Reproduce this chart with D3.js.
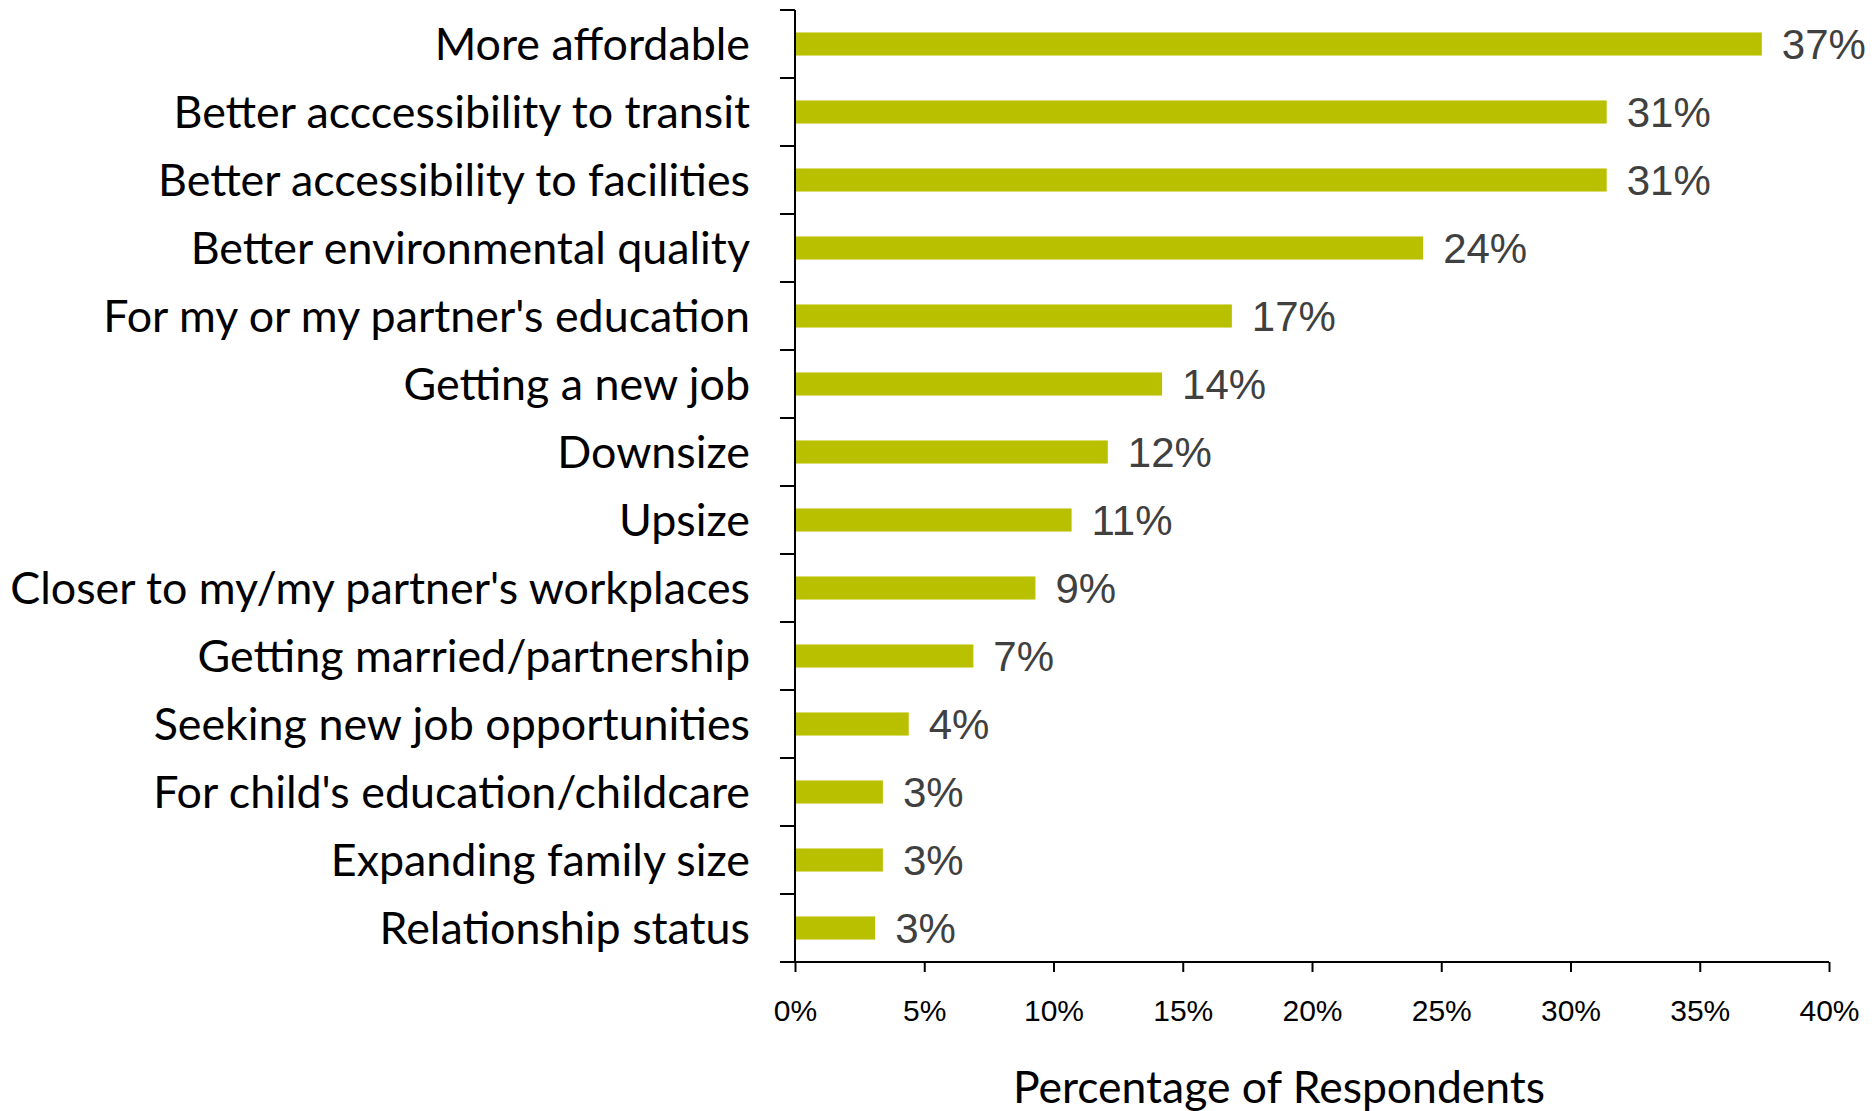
<!DOCTYPE html>
<html>
<head>
<meta charset="utf-8">
<script src="https://cdn.jsdelivr.net/npm/d3@7"></script>
<style>
  html, body { margin: 0; padding: 0; background: #fff; }
  svg { display: block; }
</style>
</head>
<body>
<svg id="chart" width="1872" height="1111"></svg>
<script>
// Reasons for moving, share of respondents (fractions)
const categories = [
  "More affordable",
  "Better acccessibility to transit",
  "Better accessibility to facilities",
  "Better environmental quality",
  "For my or my partner's education",
  "Getting a new job",
  "Downsize",
  "Upsize",
  "Closer to my/my partner's workplaces",
  "Getting married/partnership",
  "Seeking new job opportunities",
  "For child's education/childcare",
  "Expanding family size",
  "Relationship status"
];
const values = [0.374, 0.314, 0.314, 0.243, 0.169, 0.142, 0.121, 0.107, 0.093, 0.069, 0.044, 0.034, 0.034, 0.031];
const xTicks = [0, 0.05, 0.10, 0.15, 0.20, 0.25, 0.30, 0.35, 0.40];
const xTitle = "Percentage of Respondents";

const svg = d3.select("#chart");
const plot = { left: 795, right: 1829, top: 10, bottom: 962 };
const barColor = "#b9c000";
const labelFont = "Lato, 'Noto Sans', sans-serif";
const numFont = "'Liberation Sans', Arial, sans-serif";

const x = d3.scaleLinear().domain([0, 0.40]).range([plot.left, plot.right]);
const y = d3.scaleBand().domain(categories).range([plot.top, plot.bottom])
  .paddingInner(0.66).paddingOuter(0.33);
const fmt = d3.format(".0%");

// Bars
svg.append("g").selectAll("rect")
  .data(categories)
  .join("rect")
  .attr("x", x(0))
  .attr("y", d => y(d))
  .attr("width", (d, i) => x(values[i]) - x(0))
  .attr("height", y.bandwidth())
  .attr("fill", barColor);

// Value labels
svg.append("g").selectAll("text")
  .data(categories)
  .join("text")
  .attr("x", (d, i) => x(values[i]) + 20)
  .attr("y", d => y(d) + y.bandwidth() / 2)
  .attr("dy", "0.36em")
  .attr("font-family", numFont)
  .attr("font-size", 42)
  .attr("fill", "#404040")
  .text((d, i) => fmt(values[i]));

// Category axis: labels, domain line and boundary ticks
const yAxis = svg.append("g")
  .attr("transform", `translate(${plot.left},0)`)
  .call(d3.axisLeft(y).tickSize(0).tickPadding(45));
yAxis.select(".domain").attr("stroke", "#000").attr("stroke-width", 2)
  .attr("d", `M0,${plot.top}V${plot.bottom}`);
yAxis.selectAll(".tick text")
  .attr("font-family", labelFont)
  .attr("font-size", 44.8)
  .attr("fill", "#000")
  .attr("dy", "0.35em");
const boundaries = categories.map(c => y(c) - y.step() * y.paddingInner() / 2);
boundaries.push(plot.bottom);
yAxis.append("g").selectAll("line")
  .data(boundaries)
  .join("line")
  .attr("x1", -15).attr("x2", 0)
  .attr("y1", d => d).attr("y2", d => d)
  .attr("stroke", "#000").attr("stroke-width", 2);

// Value axis
const xAxis = svg.append("g")
  .attr("transform", `translate(0,${plot.bottom})`)
  .call(d3.axisBottom(x).tickValues(xTicks).tickFormat(fmt).tickSize(10).tickSizeOuter(0).tickPadding(28));
xAxis.select(".domain").attr("stroke", "#000").attr("stroke-width", 2)
  .attr("d", `M${plot.left - 15},0H${plot.right}`);
xAxis.selectAll(".tick line").attr("stroke", "#000").attr("stroke-width", 2);
xAxis.selectAll(".tick text")
  .attr("font-family", numFont)
  .attr("font-size", 30)
  .attr("fill", "#000");

// Axis title
svg.append("text")
  .attr("x", 1279)
  .attr("y", 1103)
  .attr("text-anchor", "middle")
  .attr("font-family", labelFont)
  .attr("font-size", 44.5)
  .attr("fill", "#000")
  .text(xTitle);
</script>
</body>
</html>
